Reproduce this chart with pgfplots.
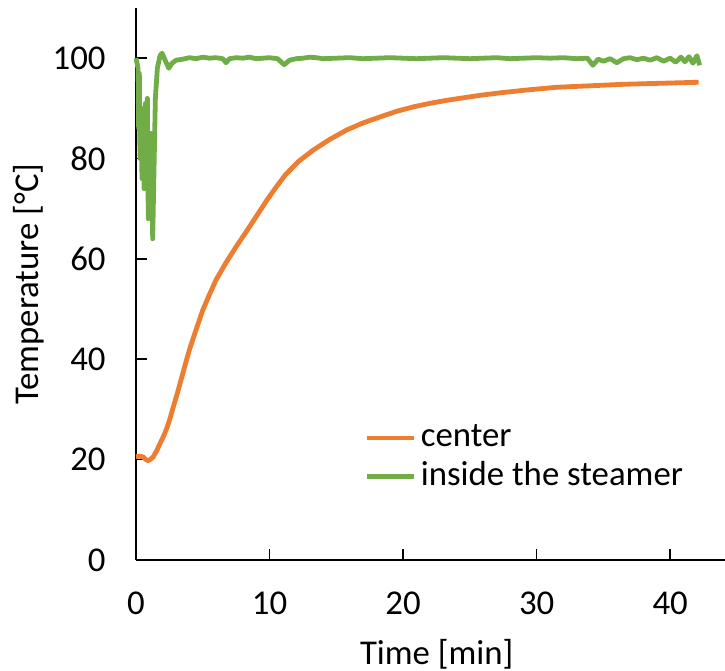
\documentclass[border=0pt]{standalone}
\usepackage{pgfplots}
\pgfplotsset{compat=1.18}
\usepackage{fontspec}
\setmainfont{Carlito}
\definecolor{xorange}{RGB}{237,125,49}
\definecolor{xgreen}{RGB}{112,173,71}
\begin{document}
\begin{tikzpicture}[font=\fontsize{17.4}{21}\selectfont]
\begin{axis}[
  name=ax,
  scale only axis,
  width=294.5pt, height=276pt,
  xmin=0, xmax=44.1, ymin=0, ymax=110,
  axis lines=left,
  axis line style={-, line width=1pt, black},
  xtick={0,10,20,30,40},
  ytick={0,20,40,60,80,100},
  tick align=inside,
  major tick length=5.3pt,
  tick style={line width=0.8pt, black},
  /pgf/number format/assume math mode=true,
  xticklabel style={yshift=-12.2pt},
  yticklabel style={xshift=-11.7pt},
  xlabel={Time [min]},
  ylabel={Temperature [°C]},
  xlabel style={at={(axis description cs:0.5105,-0.1884)}, anchor=base},
  ylabel style={at={(axis description cs:-0.1647,0.5)}, anchor=base},
  clip=false,
  legend style={draw=none, fill=none, at={(axis description cs:0.3888,0.186)}, anchor=west,
    inner sep=0pt, outer sep=0pt, row sep=3.3pt, column sep=2pt,
    nodes={inner sep=0pt, text height=12.4pt, text depth=3.6pt}},
  legend cell align=left,
  legend image code/.code={\draw[#1, line width=2.4pt] (0pt,0pt) -- (23.5pt,0pt);},
]
\addplot[xorange, line width=2.4pt, line join=round] coordinates {
(0,20.6)(0.3,20.7)(0.55,20.5)(0.75,20.0)(0.92,19.8)(1.1,20.1)(1.3,20.6)(1.55,21.8)(1.8,23.2)(2.05,24.6)(2.3,26.2)(2.55,28.2)(2.79,30.5)(3.05,32.8)(3.3,35.2)(3.65,38.6)(3.99,41.8)(4.5,45.9)(5.0,49.8)(5.5,52.9)(5.99,55.8)(6.75,59.3)(7.49,62.4)(8.25,65.4)(8.99,68.4)(9.75,71.5)(10.49,74.3)(11.2,76.8)(12.2,79.5)(13.28,81.7)(14.5,83.8)(15.78,85.7)(17.0,87.1)(18.28,88.3)(19.5,89.4)(20.77,90.3)(22.0,91.0)(23.27,91.6)(24.5,92.1)(25.77,92.6)(27.27,93.1)(29.4,93.7)(31.51,94.2)(34.0,94.5)(36.5,94.8)(39.3,95.0)(42.12,95.2)
};
\addlegendentry{center}
\addplot[xgreen, line width=2.4pt, line join=round] coordinates {
(0,100)(0.08,99)(0.15,98)(0.2,86)(0.25,97)(0.3,80)(0.38,88)(0.45,76)(0.52,90)(0.6,74)(0.7,91)(0.78,84)(0.85,92)(0.92,68)(1.0,82)(1.08,75)(1.15,85)(1.25,64)(1.35,78)(1.45,92)(1.6,98)(1.8,100.5)(1.95,101)(2.2,99.5)(2.45,98)(2.7,99)(3.0,99.6)(3.5,99.8)(4.0,100.1)(4.5,99.9)(5.0,100.2)(5.5,100.0)(6.0,100.1)(6.5,99.9)(6.74,99.1)(7.0,99.9)(7.5,100.1)(8.0,100.0)(8.5,100.2)(9.0,99.9)(9.5,100.0)(10.0,100.1)(10.6,99.9)(11.1,98.7)(11.5,99.6)(12.0,99.9)(12.5,100.0)(13.0,100.2)(13.5,100.1)(14.0,99.9)(15.0,100.0)(16.0,100.1)(17.0,99.9)(18.0,100.0)(19.0,100.1)(20.0,100.0)(21.0,99.9)(22.0,100.0)(23.0,100.1)(24.0,100.0)(25.0,99.9)(26.0,100.0)(27.0,100.1)(28.0,99.9)(29.0,100.0)(30.0,100.1)(31.0,100.0)(32.0,100.1)(33.0,99.9)(33.8,100.0)(34.2,98.6)(34.6,99.8)(35.0,99.4)(35.5,99.9)(36.0,99.1)(36.5,99.9)(37.0,100.1)(37.5,99.7)(38.0,100.0)(38.5,99.6)(39.0,100.1)(39.5,99.4)(40.0,100.0)(40.4,99.2)(40.8,100.2)(41.1,99.3)(41.4,100.3)(41.7,99.0)(42.0,100.5)(42.2,98.6)
};
\addlegendentry{inside the steamer}
\end{axis}
\pgfresetboundingbox
\useasboundingbox ([xshift=-68pt,yshift=-55.5pt]ax.south west) rectangle ([yshift=4pt]ax.north east);
\end{tikzpicture}
\end{document}
